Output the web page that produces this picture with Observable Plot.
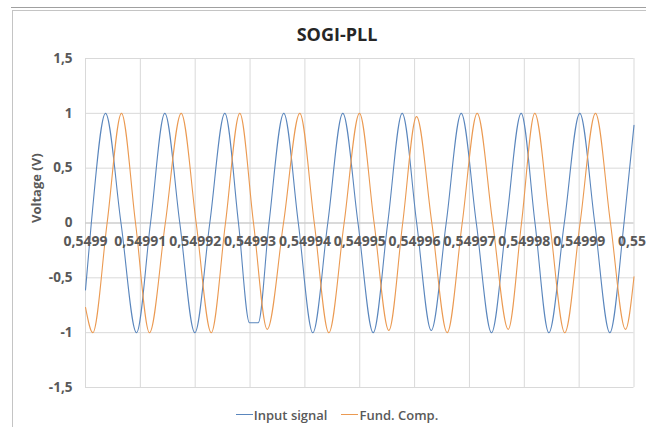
<!DOCTYPE html>
<html>
<head>
<meta charset="utf-8">
<script src="https://cdn.jsdelivr.net/npm/d3@7"></script>
<script src="https://cdn.jsdelivr.net/npm/@observablehq/plot@0.6"></script>
<style>
  html, body { margin: 0; padding: 0; background: #fff; }
  #wrap { position: relative; width: 646px; height: 427px; overflow: hidden; background: #fff; font-family: "Open Sans", sans-serif; }
  #topline { position: absolute; left: 11px; top: 7px; width: 640px; height: 0; border-top: 1.5px solid #a0a0a0; }
  #frame { position: absolute; left: 12px; top: 10px; width: 640px; height: 420px; border-left: 1px solid #c4c4c4; border-top: 1px solid #c4c4c4; }
  #title { position: absolute; left: 0; width: 674px; top: 22px; text-align: center; font-weight: bold; font-size: 18px; color: #262626; }
  #chart { position: absolute; left: 0; top: 0; }
  #legend { position: absolute; left: 0; width: 674px; top: 401px; text-align: center; font-size: 13px; color: #595959; font-weight: 600; }
  .item { display: inline-flex; align-items: center; margin: 0 7px; }
  .sw { display: inline-block; width: 17px; height: 0; border-top: 1.5px solid; margin-right: 1px; }
</style>
</head>
<body>
<div id="wrap">
  <div id="topline"></div>
  <div id="frame"></div>
  <div id="title">SOGI-PLL</div>
  <div id="chart"></div>
  <div id="legend"></div>
</div>
<script>
// ---- Data ----
const seriesNames = ["Input signal", "Fund. Comp."];
const seriesColors = ["#5a86bd", "#eb9a52"];

const inputTime = [
  0.54990000, 0.54990106, 0.54990365, 0.54990647, 0.54990930, 0.54991185, 0.54991446, 0.54991719,
  0.54991993, 0.54992266, 0.54992540, 0.54992789, 0.54992990, 0.54993149, 0.54993346, 0.54993615,
  0.54993880, 0.54994144, 0.54994417, 0.54994691, 0.54994968, 0.54995245, 0.54995510, 0.54995774,
  0.54996038, 0.54996303, 0.54996576, 0.54996850, 0.54997125, 0.54997402, 0.54997672, 0.54997943,
  0.54998195, 0.54998447, 0.54998729, 0.54999012, 0.54999285, 0.54999559, 0.54999818, 0.55000000
];
const inputVoltage = [
  -0.61, 0, 1, 0, -1, 0, 1, 0,
  -1, 0, 1, 0, -0.91, -0.91, 0, 1,
  0, -1, 0, 1, 0, -1, 0, 1,
  0, -0.98, 0, 1, 0, -1, 0, 1,
  0, -1, 0, 1, 0, -1, 0, 0.89
];

const fundTime = [
  0.54990000, 0.54990133, 0.54990394, 0.54990656, 0.54990912, 0.54991167, 0.54991455, 0.54991745,
  0.54992018, 0.54992292, 0.54992552, 0.54992813, 0.54993063, 0.54993313, 0.54993610, 0.54993907,
  0.54994171, 0.54994436, 0.54994715, 0.54994995, 0.54995262, 0.54995530, 0.54995783, 0.54996035,
  0.54996314, 0.54996594, 0.54996868, 0.54997141, 0.54997424, 0.54997707, 0.54997949, 0.54998191,
  0.54998465, 0.54998738, 0.54999017, 0.54999298, 0.54999571, 0.54999845, 0.55000000
];
const fundVoltage = [
  -0.77, -1, 0, 1, 0, -1, 0, 1,
  0, -1, 0, 1, 0, -0.97, 0, 1,
  0, -1, 0, 1, 0, -0.98, 0, 0.97,
  0, -1, 0, 1, 0, -0.97, 0, 1,
  0, -1, 0, 1, 0, -0.97, -0.49
];

const xTicks = [0.5499, 0.54991, 0.54992, 0.54993, 0.54994, 0.54995, 0.54996, 0.54997, 0.54998, 0.54999, 0.55];
const xTickLabels = ["0,5499", "0,54991", "0,54992", "0,54993", "0,54994", "0,54995", "0,54996", "0,54997", "0,54998", "0,54999", "0,55"];
const yTicks = [-1.5, -1, -0.5, 0, 0.5, 1, 1.5];
const yTickLabels = ["-1,5", "-1", "-0,5", "0", "0,5", "1", "1,5"];
const yTitle = "Voltage (V)";

// ---- Build tables ----
const rows = [
  ...inputTime.map((t, i) => ({t, v: inputVoltage[i], s: seriesNames[0]})),
  ...fundTime.map((t, i) => ({t, v: fundVoltage[i], s: seriesNames[1]}))
];
const xTickRows = xTicks.map((x, i) => ({x, label: xTickLabels[i]}));
const lastIdx = xTickRows.length - 1;

const labelStyle = {fontSize: 14, fontWeight: "bold", fill: "#595959"};

const chart = Plot.plot({
  width: 646,
  height: 427,
  marginLeft: 85,
  marginRight: 12.5,
  marginTop: 58,
  marginBottom: 40,
  style: {background: "transparent", fontFamily: "Open Sans, sans-serif"},
  x: {domain: [0.5499, 0.55]},
  y: {domain: [-1.5, 1.5]},
  color: {domain: seriesNames, range: seriesColors},
  marks: [
    Plot.gridX(xTicks, {stroke: "#d9d9d9", strokeOpacity: 1}),
    Plot.gridY(yTicks, {stroke: "#d9d9d9", strokeOpacity: 1}),
    Plot.ruleY([0], {stroke: "#c8c8c8"}),
    Plot.axisY(yTicks, {
      tickSize: 0, tickPadding: 13, label: null,
      tickFormat: (d) => yTickLabels[yTicks.indexOf(d)],
      fontSize: 13.5, fontWeight: "bold", fill: "#595959"
    }),
    Plot.axisX({ticks: [], label: null, tickSize: 0}),
    Plot.text([yTitle], {frameAnchor: "left", rotate: -90, dx: -49, fontSize: 13, fontWeight: "bold", fill: "#595959"}),
    Plot.line(rows, {x: "t", y: "v", z: "s", stroke: "s", strokeWidth: 1.1, curve: "monotone-x"}),
    Plot.text(xTickRows.slice(0, lastIdx), {x: "x", y: () => 0, text: "label", dy: 19, ...labelStyle}),
    Plot.text(xTickRows.slice(lastIdx), {x: "x", y: () => 0, text: "label", dy: 19, dx: 12, textAnchor: "end", ...labelStyle})
  ]
});
document.getElementById("chart").appendChild(chart);

// ---- Legend ----
const legend = document.getElementById("legend");
seriesNames.forEach((name, i) => {
  const item = document.createElement("span");
  item.className = "item";
  const sw = document.createElement("span");
  sw.className = "sw";
  sw.style.borderColor = seriesColors[i];
  item.appendChild(sw);
  item.appendChild(document.createTextNode(name));
  legend.appendChild(item);
});
</script>
</body>
</html>
